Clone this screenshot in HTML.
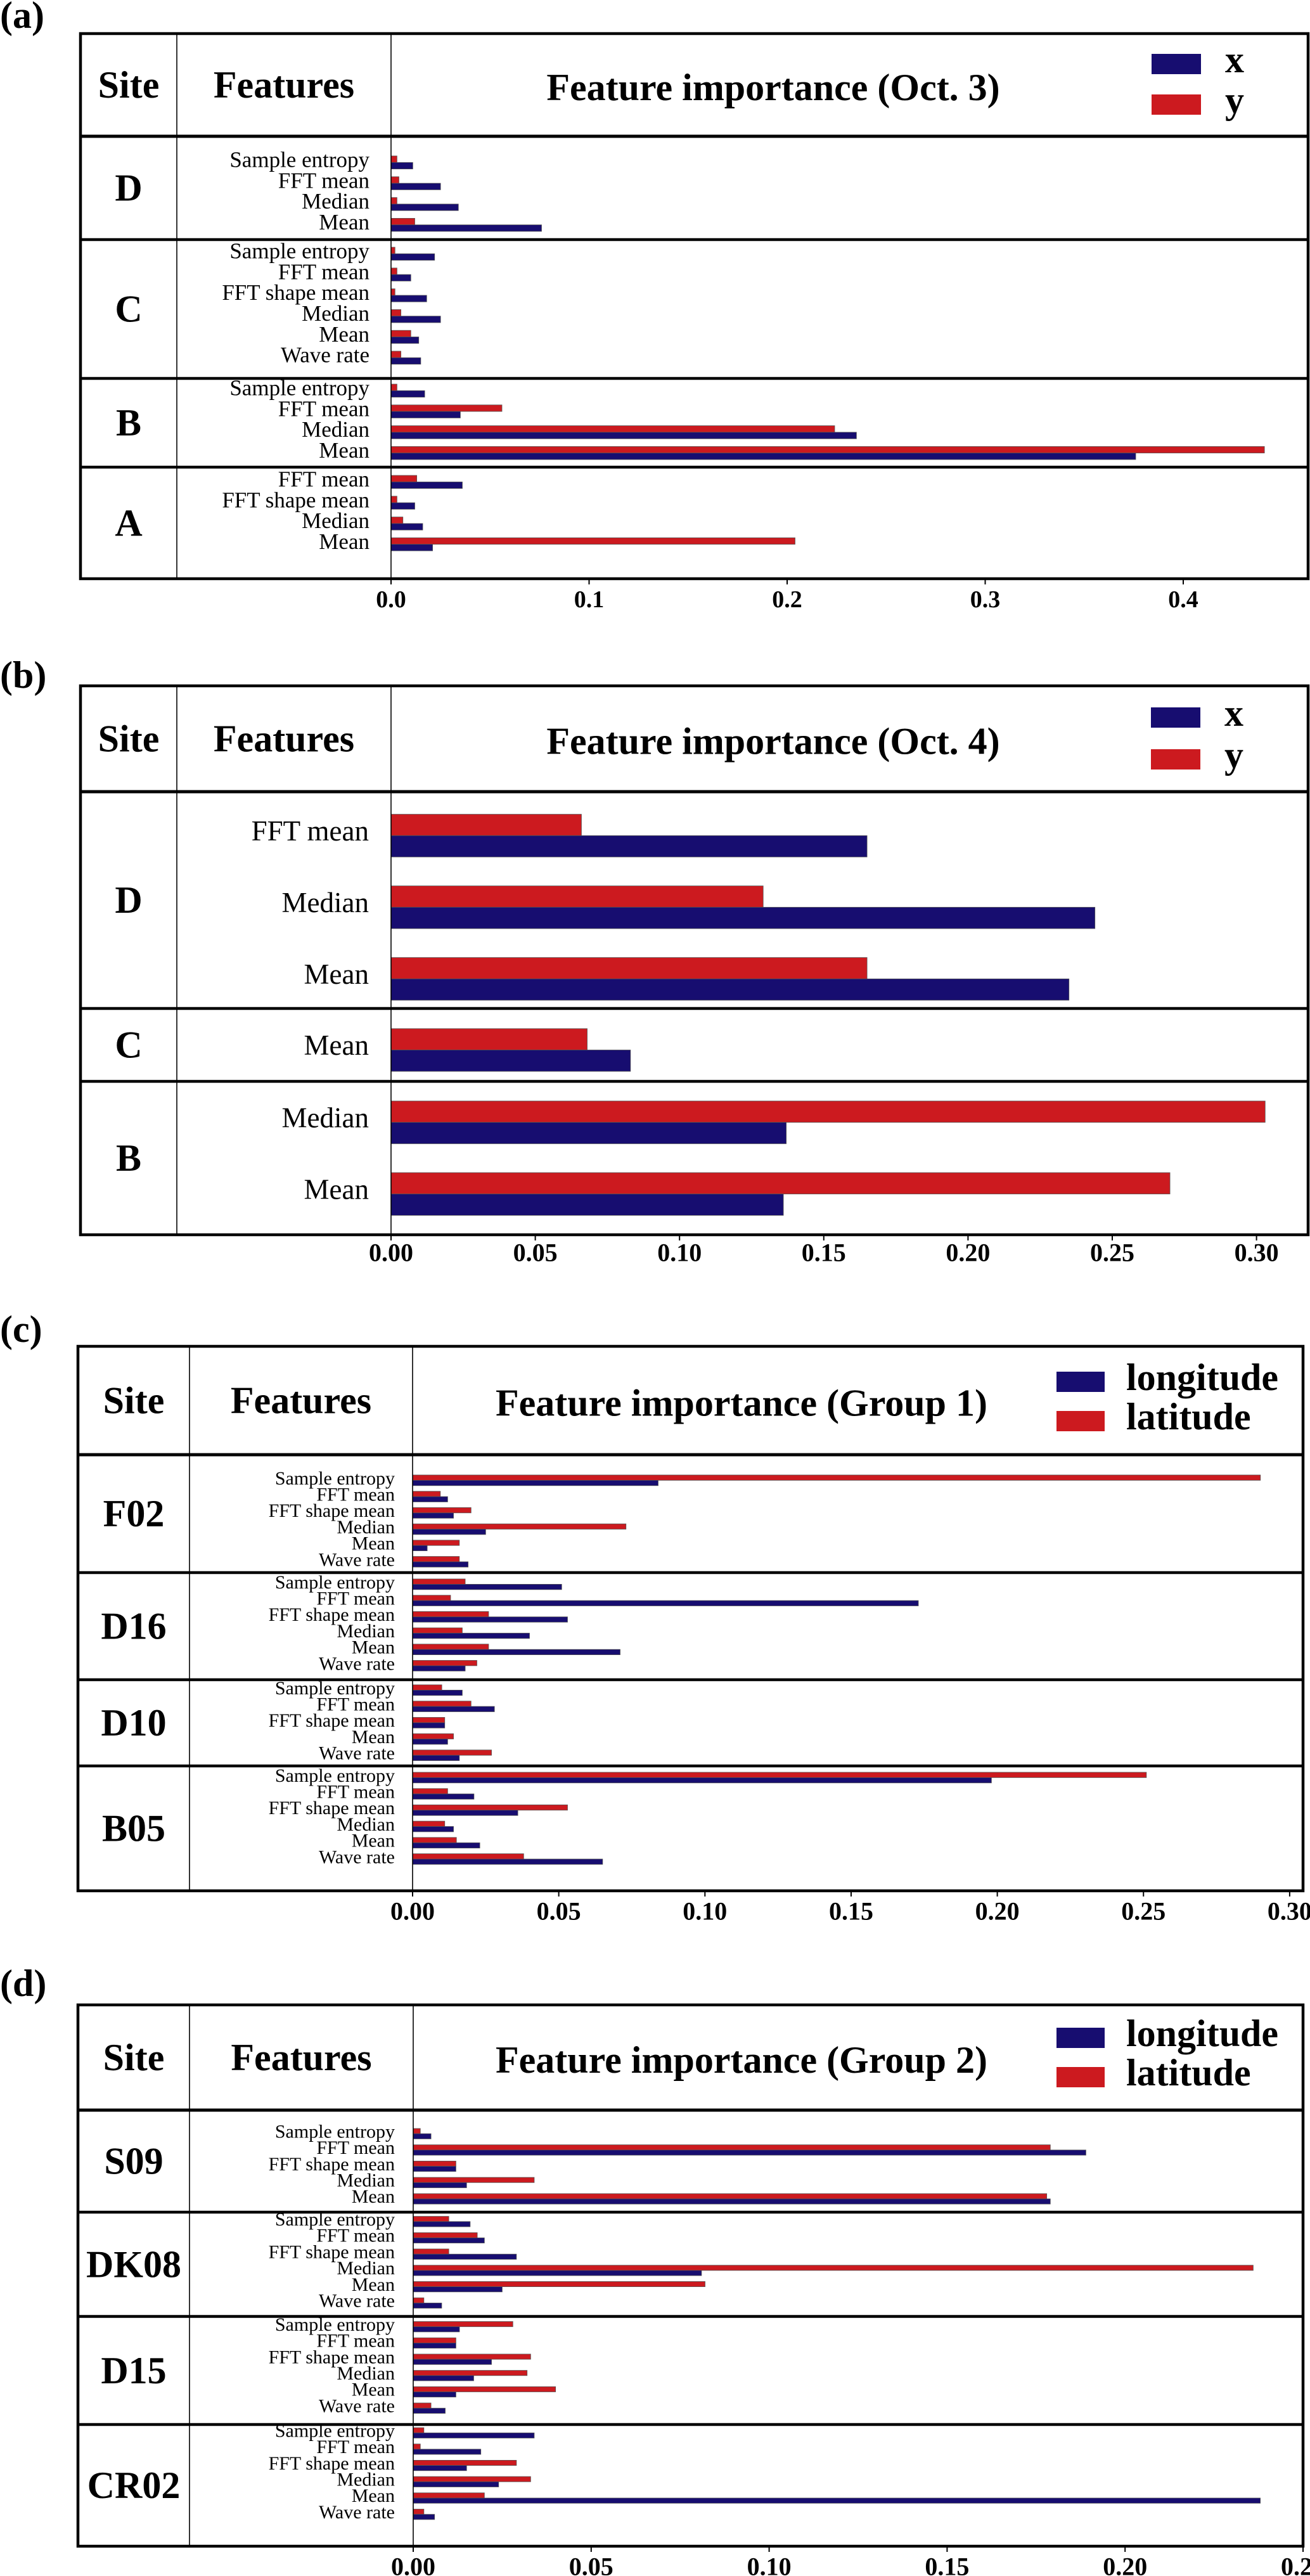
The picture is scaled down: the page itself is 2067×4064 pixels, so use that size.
<!DOCTYPE html>
<html><head><meta charset="utf-8"><style>
html,body{margin:0;padding:0;background:#fff;}
svg{display:block;font-family:"Liberation Serif","DejaVu Serif",serif;}
</style></head><body>
<svg id="fig" width="2067" height="4064" viewBox="0 0 2067 4064" xmlns="http://www.w3.org/2000/svg"></svg>
<script>
// ---------- Panel (a) data ----------
const aSites = ["D","C","B","A"];
const aFeatures = [
  ["Sample entropy","FFT mean","Median","Mean"],
  ["Sample entropy","FFT mean","FFT shape mean","Median","Mean","Wave rate"],
  ["Sample entropy","FFT mean","Median","Mean"],
  ["FFT mean","FFT shape mean","Median","Mean"]
];
const aSeries1 = [[0.011,0.025,0.034,0.076],[0.022,0.010,0.018,0.025,0.014,0.015],[0.017,0.035,0.235,0.376],[0.036,0.012,0.016,0.021]];
const aSeries2 = [[0.003,0.004,0.003,0.012],[0.002,0.003,0.002,0.005,0.010,0.005],[0.003,0.056,0.224,0.441],[0.013,0.003,0.006,0.204]];
const aTickVals = [0,0.1,0.2,0.3,0.4];
const aTickLabels = ["0.0","0.1","0.2","0.3","0.4"];
// ---------- Panel (b) data ----------
const bSites = ["D","C","B"];
const bFeatures = [["FFT mean","Median","Mean"],["Mean"],["Median","Mean"]];
const bSeries1 = [[0.165,0.244,0.235],[0.083],[0.137,0.136]];
const bSeries2 = [[0.066,0.129,0.165],[0.068],[0.303,0.270]];
const bTickVals = [0,0.05,0.10,0.15,0.20,0.25,0.30];
const bTickLabels = ["0.00","0.05","0.10","0.15","0.20","0.25","0.30"];
// ---------- Panel (c) data ----------
const cSites = ["F02","D16","D10","B05"];
const cFeatures = [
  ["Sample entropy","FFT mean","FFT shape mean","Median","Mean","Wave rate"],
  ["Sample entropy","FFT mean","FFT shape mean","Median","Mean","Wave rate"],
  ["Sample entropy","FFT mean","FFT shape mean","Mean","Wave rate"],
  ["Sample entropy","FFT mean","FFT shape mean","Median","Mean","Wave rate"]
];
const cSeries1 = [[0.084,0.012,0.014,0.025,0.005,0.019],[0.051,0.173,0.053,0.040,0.071,0.018],[0.017,0.028,0.011,0.012,0.016],[0.198,0.021,0.036,0.014,0.023,0.065]];
const cSeries2 = [[0.290,0.0095,0.020,0.073,0.016,0.016],[0.018,0.013,0.026,0.017,0.026,0.022],[0.010,0.020,0.011,0.014,0.027],[0.251,0.012,0.053,0.011,0.015,0.038]];
const cTickVals = [0,0.05,0.10,0.15,0.20,0.25,0.30];
const cTickLabels = ["0.00","0.05","0.10","0.15","0.20","0.25","0.30"];
// ---------- Panel (d) data ----------
const dSites = ["S09","DK08","D15","CR02"];
const dFeatures = [
  ["Sample entropy","FFT mean","FFT shape mean","Median","Mean"],
  ["Sample entropy","FFT mean","FFT shape mean","Median","Mean","Wave rate"],
  ["Sample entropy","FFT mean","FFT shape mean","Median","Mean","Wave rate"],
  ["Sample entropy","FFT mean","FFT shape mean","Median","Mean","Wave rate"]
];
const dSeries1 = [[0.005,0.189,0.012,0.015,0.179],[0.016,0.020,0.029,0.081,0.025,0.008],[0.013,0.012,0.022,0.017,0.012,0.009],[0.034,0.019,0.015,0.024,0.238,0.006]];
const dSeries2 = [[0.002,0.179,0.012,0.034,0.178],[0.010,0.018,0.010,0.236,0.082,0.003],[0.028,0.012,0.033,0.032,0.040,0.005],[0.003,0.002,0.029,0.033,0.020,0.003]];
const dTickVals = [0,0.05,0.10,0.15,0.20,0.25];
const dTickLabels = ["0.00","0.05","0.10","0.15","0.20","0.25"];

const NS = "http://www.w3.org/2000/svg";
const svg = document.getElementById("fig");
const NAVY = "#170d70", RED = "#cc1a1f";
function mk(tag, attrs, parent){
  const e = document.createElementNS(NS, tag);
  for (const k in attrs) e.setAttribute(k, attrs[k]);
  (parent||svg).appendChild(e);
  return e;
}
function txt(s, attrs, parent){ const e = mk("text", attrs, parent); e.textContent = s; return e; }

function panel(P){
  const g = mk("g", {});
  
  
  const xs = v => P.x0 + v * P.scale;
  let t = txt(P.letter, {x: 0, y: P.letterY, "font-size": 60, "font-weight": "bold", "dominant-baseline": "central"}, g);
  
  
  // headers
  t = txt("Site", {x: (P.left + P.siteDiv)/2, y: (P.top + P.hb)/2, "font-size": 60, "font-weight": "bold", "text-anchor": "middle", "dominant-baseline": "central"}, g);
  
  
  t = txt("Features", {x: (P.siteDiv + P.x0)/2, y: (P.top + P.hb)/2, "font-size": 60, "font-weight": "bold", "text-anchor": "middle", "dominant-baseline": "central"}, g);
  
  
  t = txt(P.title, {x: P.titleX, y: (P.top + P.hb)/2 + 4, "font-size": 60, "font-weight": "bold", "text-anchor": "middle", "dominant-baseline": "central"}, g);
  
  
  // legend
  P.legendNames.forEach((nm, i) => {
    const r = mk("rect", {x: P.legX, y: P.legY[i], width: P.legW, height: 32, fill: i === 0 ? NAVY : RED}, g);
    
    
    const lt = txt(nm, {x: P.legTX, y: P.legY[i] + 29, "font-size": 60, "font-weight": "bold"}, g);
    
    
  });
  // sections
  let secTop = P.hb;
  P.sites.forEach((site, si) => {
    const secBot = P.bottoms[si];
    const st = txt(site, {x: (P.left + P.siteDiv)/2, y: (secTop + secBot)/2, "font-size": 60, "font-weight": "bold", "text-anchor": "middle", "dominant-baseline": "central"}, g);
    
    
    P.features[si].forEach((f, fi) => {
      const y0 = secTop + P.pads[si] + fi * P.pitch;
      const rr = mk("rect", {x: xs(0), y: y0, width: Math.max(0, xs(P.s2[si][fi]) - xs(0)), height: P.barH, fill: RED, stroke: "#555", "stroke-width": 0.8}, g);
      
      
      const rb = mk("rect", {x: xs(0), y: y0 + P.barH, width: Math.max(0, xs(P.s1[si][fi]) - xs(0)), height: P.barH, fill: NAVY, stroke: "#555", "stroke-width": 0.8}, g);
      
      
      const fl = txt(f, {x: P.labelRight, y: y0 + 2*P.barH + P.labelDy, "font-size": P.labelFont, "text-anchor": "end"}, g);
      
      
    });
    if (si < P.sites.length - 1) {
      const ln = mk("line", {x1: P.left, x2: P.right, y1: secBot, y2: secBot, stroke: "#000", "stroke-width": 4.5}, g);
      
      
    }
    secTop = secBot;
  });
  const boxBot = P.bottoms[P.bottoms.length - 1];
  // grid lines
  let l = mk("line", {x1: P.siteDiv, x2: P.siteDiv, y1: P.top, y2: boxBot, stroke: "#000", "stroke-width": 1.6}, g);
  
  
  l = mk("line", {x1: P.x0, x2: P.x0, y1: P.top, y2: boxBot, stroke: "#000", "stroke-width": 1.6}, g);
  
  
  l = mk("line", {x1: P.left, x2: P.right, y1: P.hb, y2: P.hb, stroke: "#000", "stroke-width": 5}, g);
  
  
  l = mk("rect", {x: P.left, y: P.top, width: P.right - P.left, height: boxBot - P.top, fill: "none", stroke: "#000", "stroke-width": 4.5}, g);
  
  
  // ticks
  P.tickVals.forEach((v, i) => {
    const tk = mk("line", {x1: xs(v), x2: xs(v), y1: boxBot, y2: boxBot + 9, stroke: "#000", "stroke-width": 2}, g);
    
    
    const tl = txt(P.tickLabels[i], {x: xs(v), y: P.tickY, "font-size": P.tickFont, "font-weight": "bold", "text-anchor": "middle", "dominant-baseline": "central"}, g);
    
    
  });
}

panel({id:"a", letter:"(a)", letterY:24, title:"Feature importance (Oct. 3)", titleX:1220,
  left:127, right:2064, siteDiv:279, x0:617, scale:3125, top:53, hb:215,
  bottoms:[378,597,737,913], pads:[31,12,9,13], pitch:32.8, barH:10.3,
  labelFont:35, labelRight:583, labelDy:-3,
  sites:aSites, features:aFeatures, s1:aSeries1, s2:aSeries2,
  tickVals:aTickVals, tickLabels:aTickLabels, tickY:946, tickFont:38,
  legendNames:["x","y"], legX:1817, legW:78, legY:[85,149], legTX:1933});
panel({id:"b", letter:"(b)", letterY:1065, title:"Feature importance (Oct. 4)", titleX:1220,
  left:127, right:2064, siteDiv:279, x0:617, scale:4552, top:1082, hb:1249,
  bottoms:[1591,1706,1948], pads:[35.6,31.8,31], pitch:113, barH:33.7,
  labelFont:45, labelRight:582, labelDy:-26,
  sites:bSites, features:bFeatures, s1:bSeries1, s2:bSeries2,
  tickVals:bTickVals, tickLabels:bTickLabels, tickY:1976, tickFont:40,
  legendNames:["x","y"], legX:1816, legW:78, legY:[1116,1182], legTX:1932});
panel({id:"c", letter:"(c)", letterY:2097, title:"Feature importance (Group 1)", titleX:1170,
  left:123, right:2056, siteDiv:299, x0:651, scale:4613, top:2124, hb:2295,
  bottoms:[2481,2650,2786,2983], pads:[32,10,8,10], pitch:25.7, barH:8.4,
  labelFont:30, labelRight:623, labelDy:-2,
  sites:cSites, features:cFeatures, s1:cSeries1, s2:cSeries2,
  tickVals:cTickVals, tickLabels:cTickLabels, tickY:3015, tickFont:40,
  legendNames:["longitude","latitude"], legX:1667, legW:76, legY:[2164,2226], legTX:1777});
panel({id:"d", letter:"(d)", letterY:3129, title:"Feature importance (Group 2)", titleX:1170,
  left:123, right:2056, siteDiv:299, x0:652, scale:5616, top:3163, hb:3329,
  bottoms:[3490,3654.5,3825,4017], pads:[29,6.6,8,5], pitch:25.7, barH:8.2,
  labelFont:30, labelRight:623, labelDy:-2,
  sites:dSites, features:dFeatures, s1:dSeries1, s2:dSeries2,
  tickVals:dTickVals, tickLabels:dTickLabels, tickY:4049, tickFont:40,
  legendNames:["longitude","latitude"], legX:1667, legW:76, legY:[3199,3261], legTX:1777});
</script>
</body></html>
